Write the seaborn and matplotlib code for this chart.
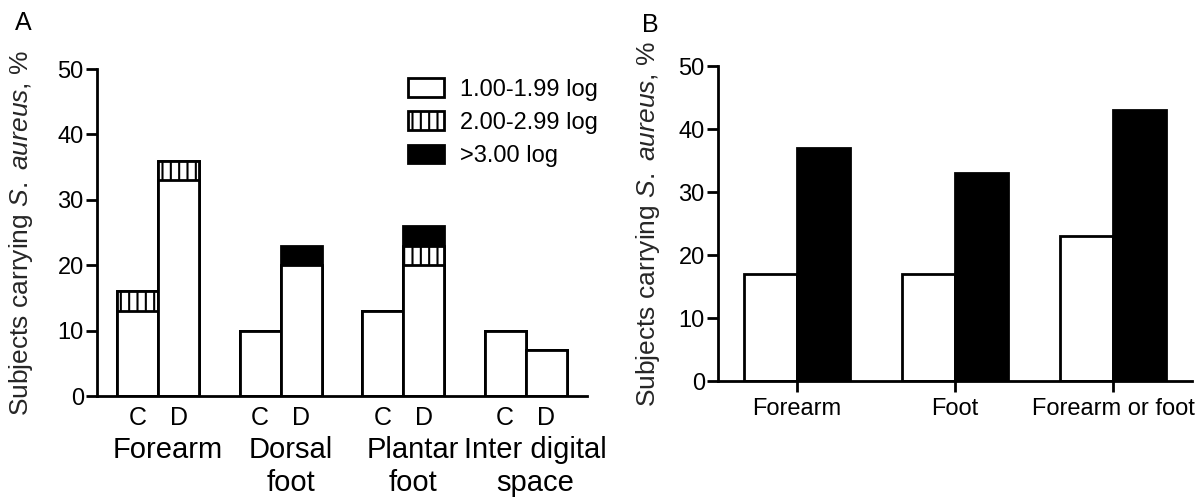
import numpy as np
import pandas as pd
import matplotlib
matplotlib.use("Agg")
import matplotlib.pyplot as plt
from matplotlib.patches import Patch
import seaborn as sns

# ---------------- Panel A data ----------------
sites_a = ["Forearm", "Dorsal\nfoot", "Plantar\nfoot", "Inter digital\nspace"]
groups = ["C", "D"]
low_c = [13, 10, 13, 10]     # 1.00-1.99 log
low_d = [33, 20, 20, 7]
mid_c = [3, 0, 0, 0]         # 2.00-2.99 log
mid_d = [3, 0, 3, 0]
high_c = [0, 0, 0, 0]        # >3.00 log
high_d = [0, 3, 3, 0]
legend_labels = ["1.00-1.99 log", "2.00-2.99 log", ">3.00 log"]

# ---------------- Panel B data ----------------
sites_b = ["Forearm", "Foot", "Forearm or foot"]
b_c = [17, 17, 23]
b_d = [37, 33, 43]

yticks = [0, 10, 20, 30, 40, 50]
ylabel = r"Subjects carrying $\mathit{S.\ aureus}$, %"

# ---------------- tables ----------------
rows = []
for i, s in enumerate(sites_a):
    rows.append(dict(site=s, group="C", low=low_c[i], mid=mid_c[i], high=high_c[i]))
    rows.append(dict(site=s, group="D", low=low_d[i], mid=mid_d[i], high=high_d[i]))
df_a = pd.DataFrame(rows)
df_a["cum1"] = df_a["low"]
df_a["cum2"] = df_a["low"] + df_a["mid"]
df_a["cum3"] = df_a["low"] + df_a["mid"] + df_a["high"]

df_b = pd.DataFrame({
    "site": sites_b * 2,
    "group": ["C"] * len(sites_b) + ["D"] * len(sites_b),
    "value": b_c + b_d,
})

# ---------------- style ----------------
sns.set_theme(style="ticks")
plt.rcParams["font.family"] = ["Liberation Sans", "DejaVu Sans"]
plt.rcParams["mathtext.fontset"] = "custom"
plt.rcParams["mathtext.rm"] = "Liberation Sans"
plt.rcParams["mathtext.it"] = "Liberation Sans:italic"
plt.rcParams["hatch.linewidth"] = 1.5
plt.rcParams["axes.linewidth"] = 2
plt.rcParams["axes.edgecolor"] = "black"
plt.rcParams["text.color"] = "black"
plt.rcParams["xtick.color"] = "black"
plt.rcParams["ytick.color"] = "black"

fig = plt.figure(figsize=(11.97, 4.98), dpi=100)
fig.patch.set_facecolor("white")
axA = fig.add_axes([0.0810, 0.2048, 0.4094, 0.6566])
axB = fig.add_axes([0.5998, 0.2349, 0.3960, 0.6325])

# ---------------- Panel A ----------------
layers = [("cum3", "black", ""), ("cum2", "white", "||"), ("cum1", "white", "")]
for col, fc, hatch in layers:
    sns.barplot(data=df_a, x="site", y=col, hue="group", order=sites_a,
                hue_order=groups, palette={"C": fc, "D": fc}, saturation=1,
                width=0.67, dodge=True, gap=0, edgecolor="black", linewidth=2,
                hatch=hatch, errorbar=None, legend=False, ax=axA)

axA.set_xlim(-0.5, len(sites_a) - 0.5)
axA.set_ylim(0, 50)
off = 0.67 / 4
centers = np.arange(len(sites_a))
bar_pos = np.sort(np.concatenate([centers - off, centers + off]))
axA.set_xticks(bar_pos, labels=groups * len(sites_a))
axA.set_xticks(centers + 0.08, labels=sites_a, minor=True)
axA.tick_params(axis="x", which="major", length=0, pad=7, labelsize=18)
axA.tick_params(axis="x", which="minor", length=0, pad=29, labelsize=21)
axA.set_yticks(yticks)
axA.tick_params(axis="y", length=8, width=2, pad=1.5, labelsize=17)
axA.set_xlabel("")
axA.set_ylabel(ylabel, fontsize=19)
axA.yaxis.set_label_coords(-0.1265, 0.5)

handles = [
    Patch(facecolor="white", edgecolor="black", linewidth=2, label=legend_labels[0]),
    Patch(facecolor="white", edgecolor="black", linewidth=2, hatch="||", label=legend_labels[1]),
    Patch(facecolor="black", edgecolor="black", linewidth=2, label=legend_labels[2]),
]
axA.legend(handles=handles, loc="upper left", bbox_to_anchor=(0.635, 0.972),
           frameon=False, fontsize=17, handlelength=1.5, handleheight=0.82,
           handletextpad=0.69, labelspacing=0.46, borderpad=0, borderaxespad=0)

# ---------------- Panel B ----------------
sns.barplot(data=df_b, x="site", y="value", hue="group", order=sites_b,
            hue_order=groups, palette={"C": "white", "D": "black"}, saturation=1,
            width=0.67, dodge=True, gap=0, edgecolor="black", linewidth=2,
            errorbar=None, legend=False, ax=axB)
axB.set_xlim(-0.5, len(sites_b) - 0.5)
axB.set_ylim(0, 50)
axB.set_xticks(np.arange(len(sites_b)), labels=sites_b)
axB.tick_params(axis="x", length=8, width=2, pad=4.5, labelsize=17)
axB.set_yticks(yticks)
axB.tick_params(axis="y", length=8, width=2, pad=1.5, labelsize=17)
axB.set_xlabel("")
axB.set_ylabel(ylabel, fontsize=19)
axB.yaxis.set_label_coords(-0.118, 0.5)

for ax in (axA, axB):
    sns.despine(ax=ax)
    ax.set_facecolor("white")

fig.text(15 / 1197, 1 - 11 / 498, "A", fontsize=18, va="top", ha="left")
fig.text(642 / 1197, 1 - 13 / 498, "B", fontsize=18, va="top", ha="left")

fig.savefig("out.png", dpi=100, facecolor="white")
